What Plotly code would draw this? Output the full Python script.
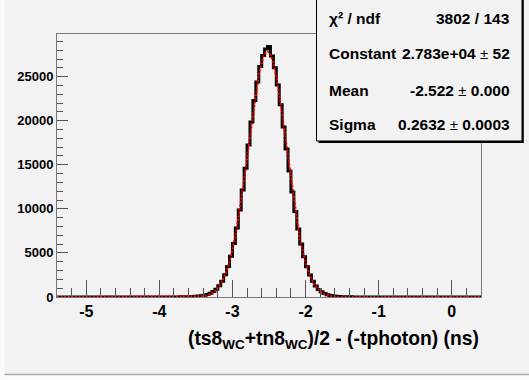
import numpy as np
import plotly.graph_objects as go

# ---------------- data ----------------
bin_low = -5.4
bin_width = 0.04
counts = [
    2, 1, 3, 2, 1, 2, 3, 1, 2, 2,
    3, 2, 1, 3, 2, 4, 2, 3, 3, 2,
    4, 3, 3, 4, 3, 5, 4, 4, 5, 5,
    6, 5, 6, 7, 6, 7, 8, 8, 9, 10,
    11, 12, 15, 20, 27, 38, 52, 74, 103, 142,
    205, 290, 420, 610, 880, 1270, 1800, 2520, 3460, 4620,
    6080, 7820, 9880, 12150, 14600, 17250, 19850, 22300, 24400, 26150,
    27400, 28150, 28420, 27350, 26000, 24050, 21800, 19300, 16800, 14300,
    11900, 9700, 7720, 6010, 4580, 3420, 2490, 1780, 1250, 860,
    585, 395, 262, 175, 118, 80, 56, 40, 29, 21,
    16, 12, 9, 8, 7, 6, 6, 5, 5, 4,
    4, 3, 4, 3, 3, 2, 3, 2, 2, 3,
    2, 2, 1, 2, 2, 1, 2, 1, 1, 2,
    1, 1, 2, 1, 1, 1, 2, 1, 1, 1,
    1, 2, 1, 1, 1,
]

fit_constant = 2.783e4
fit_mean = -2.522
fit_sigma = 0.2632

PM = "<span style='font-weight:normal;font-size:15px'>±</span>"
stat_labels = ["χ² / ndf", "Constant", "Mean", "Sigma"]
stat_values = ["3802 / 143",
               "2.783e+04 " + PM + " 52",
               "-2.522 " + PM + " 0.000",
               "0.2632 " + PM + " 0.0003"]

x_ticks = [-5, -4, -3, -2, -1, 0]
x_ticktext = ["-5", "-4", "-3", "-2", "-1", "0"]
y_ticks = [0, 5000, 10000, 15000, 20000, 25000]
y_ticktext = ["0", "5000", "10000", "15000", "20000", "25000"]
x_range = [-5.4, 0.4]
y_range = [0, 29840]
x_title = "(ts8<sub>WC</sub>+tn8<sub>WC</sub>)/2 - (-tphoton) (ns)"

# ---------------- geometry ----------------
W, H = 529, 380
L, R, T, B = 57, 48, 34, 83
PW, PH = W - L - R, H - T - B
BG = "#f2f2f2"
FONT = "Liberation Sans, Arial, Helvetica, sans-serif"


def px(x):
    return (x - L) / PW


def py(y):
    return (H - B - y) / PH


edges = bin_low + bin_width * np.arange(len(counts) + 1)
step_y = list(counts) + [counts[-1]]

fx = np.linspace(x_range[0], x_range[1], 1200)
fy = fit_constant * np.exp(-0.5 * ((fx - fit_mean) / fit_sigma) ** 2)

fig = go.Figure()
fig.add_trace(go.Scatter(x=edges, y=step_y, mode="lines", line_shape="hv",
                         line=dict(color="black", width=3), hoverinfo="skip"))
fig.add_trace(go.Scatter(x=fx, y=fy, mode="lines",
                         line=dict(color="#ff0000", width=2, dash="2px,1.6px"),
                         hoverinfo="skip"))

shapes = [
    # canvas edges
    dict(type="rect", xref="paper", yref="paper", x0=px(-5), x1=px(4.5), y0=py(-5), y1=py(385),
         fillcolor="#fafafa", line_width=0, layer="below"),
    dict(type="line", xref="paper", yref="paper", x0=px(4.5), x1=px(535), y0=py(374.5), y1=py(374.5),
         line=dict(color="#a8a8a8", width=1.5)),
    dict(type="rect", xref="paper", yref="paper", x0=px(4.5), x1=px(535), y0=py(375.5), y1=py(385),
         fillcolor="#fafafa", line_width=0),
    # stat box shadow + box
    dict(type="rect", xref="paper", yref="paper", x0=px(318.5), x1=px(523.8), y0=py(143), y1=py(-5),
         fillcolor="black", line_width=0, layer="above"),
    dict(type="rect", xref="paper", yref="paper", x0=px(316.5), x1=px(522), y0=py(141), y1=py(-5),
         fillcolor=BG, line=dict(color="black", width=1), layer="above"),
]

annotations = []
row_y = [18.5, 53.5, 90.5, 124.5]
for lab, val, yy in zip(stat_labels, stat_values, row_y):
    annotations.append(dict(text="<b>" + lab + "</b>", xref="paper", yref="paper",
                            x=px(326.5), y=py(yy), xanchor="left", yanchor="middle",
                            showarrow=False, font=dict(family=FONT, size=15.5, color="black")))
    annotations.append(dict(text="<b>" + val + "</b>", xref="paper", yref="paper",
                            x=px(512), y=py(yy), xanchor="right", yanchor="middle",
                            showarrow=False, font=dict(family=FONT, size=15.5, color="black")))

annotations.append(dict(text="<b>" + x_title + "</b>", xref="paper", yref="paper",
                        x=px(481), y=py(340), xanchor="right", yanchor="middle",
                        showarrow=False, font=dict(family=FONT, size=19.3, color="black")))

fig.update_layout(
    width=W, height=H,
    margin=dict(l=L, r=R, t=T, b=B, pad=0),
    paper_bgcolor=BG, plot_bgcolor=BG,
    showlegend=False,
    shapes=shapes, annotations=annotations,
    xaxis=dict(range=x_range, tickvals=x_ticks, ticktext=x_ticktext, ticks="inside",
               ticklen=17, tickwidth=1,
               tickcolor="#555", showgrid=False, zeroline=False,
               showline=True, linecolor="#777", linewidth=1, mirror=True,
               tickfont=dict(family=FONT, size=16, color="black", weight="bold"),
               minor=dict(dtick=0.2, tick0=0, ticks="inside", ticklen=9, tickcolor="#555",
                          tickwidth=1, showgrid=False)),
    yaxis=dict(range=y_range, tickvals=y_ticks, ticktext=y_ticktext, ticks="inside",
               ticklen=11, tickwidth=1,
               tickcolor="#555", showgrid=False, zeroline=False,
               showline=True, linecolor="#777", linewidth=1, mirror=True,
               tickfont=dict(family=FONT, size=13, color="black", weight="bold"),
               minor=dict(dtick=1000, tick0=0, ticks="inside", ticklen=6, tickcolor="#555",
                          tickwidth=1, showgrid=False)),
)

fig.write_html("out.html")
